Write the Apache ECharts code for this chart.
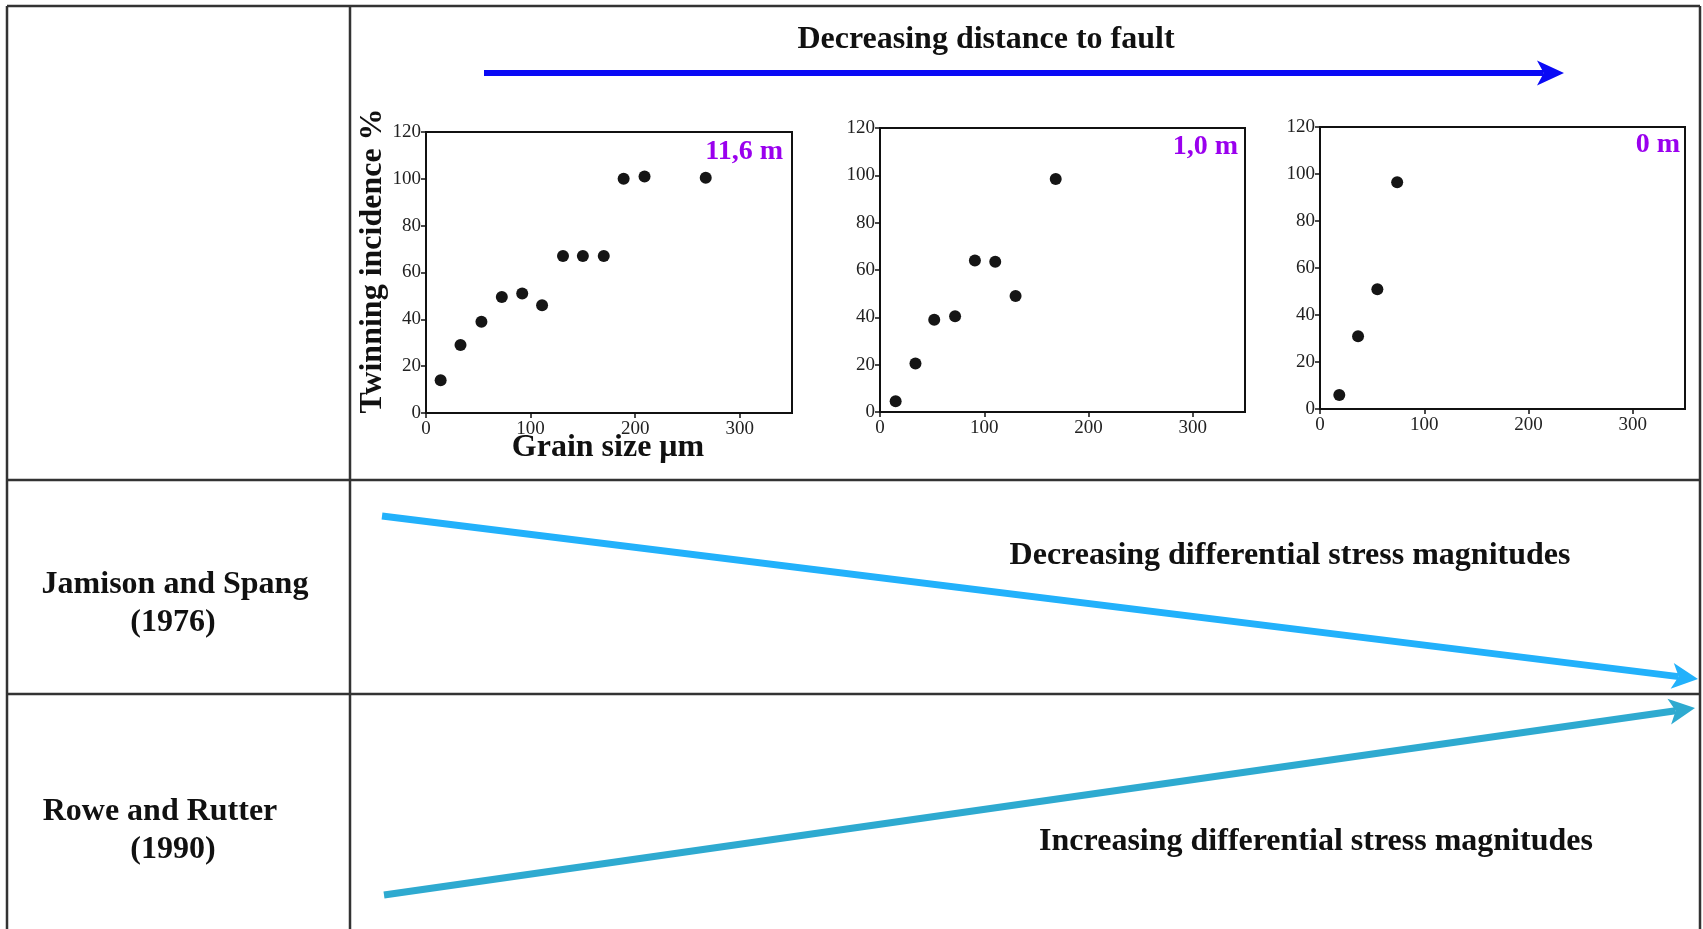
<!DOCTYPE html>
<html>
<head>
<meta charset="utf-8">
<title>Twinning incidence vs grain size</title>
<script src="https://cdn.jsdelivr.net/npm/echarts@6/dist/echarts.min.js"></script>
<style>
    html, body { margin: 0; padding: 0; background: #fff; }
    #chart { width: 1703px; height: 929px; }
</style>
</head>
<body>
<div id="chart"></div>
<script>
// distance of each sample to the fault
var distances = ['11,6 m', '1,0 m', '0 m'];

// grain size (um) / twinning incidence (%)
var grain116 = [14, 33, 53, 72.5, 92, 111, 131, 150, 170, 189, 209, 267.5];
var twin116 = [14, 29, 39, 49.5, 51, 46, 67, 67, 67, 100, 101, 100.5];
var grain10 = [15, 34, 52, 72, 91, 110.5, 130, 168.5];
var twin10 = [4.5, 20.5, 39, 40.5, 64, 63.5, 49, 98.5];
var grain0 = [18.5, 36.5, 55, 74];
var twin0 = [6, 31, 51, 96.5];

// axis ticks
var xMin = 0, xMax = 350, xStep = 100;
var yMin = 0, yMax = 120, yStep = 20;

var serif = '"Liberation Serif", "Times New Roman", serif';

var chart = (function () {

    var pairs = function (xs, ys) {
        var res = [];
        for (var i = 0; i < xs.length; i++) {
            res.push([xs[i], ys[i]]);
        }
        return res;
    };

    // straight arrow with a swept-back head
    var arrow = function (x1, y1, x2, y2, color, width, headLen, headHalf) {
        var dx = x2 - x1, dy = y2 - y1;
        var len = Math.sqrt(dx * dx + dy * dy);
        var ux = dx / len, uy = dy / len;
        var nx = -uy, ny = ux;
        var bx = x2 - ux * headLen, by = y2 - uy * headLen;
        var kx = x2 - ux * headLen * 0.75, ky = y2 - uy * headLen * 0.75;
        return [
            {
                type: 'line',
                silent: true,
                shape: {x1: x1, y1: y1, x2: kx, y2: ky},
                style: {stroke: color, lineWidth: width}
            },
            {
                type: 'polygon',
                silent: true,
                shape: {
                    points: [
                        [x2, y2],
                        [bx + nx * headHalf, by + ny * headHalf],
                        [kx, ky],
                        [bx - nx * headHalf, by - ny * headHalf]
                    ]
                },
                style: {fill: color}
            }
        ];
    };

    var rule = function (x1, y1, x2, y2) {
        return {
            type: 'line',
            silent: true,
            shape: {x1: x1, y1: y1, x2: x2, y2: y2},
            style: {stroke: '#333', lineWidth: 2.5}
        };
    };

    var label = function (text, x, y, opts) {
        opts = opts || {};
        return {
            type: 'text',
            silent: true,
            x: x,
            y: y,
            rotation: opts.rotation || 0,
            style: {
                text: text,
                fill: opts.color || '#111',
                font: 'bold ' + (opts.size || 32) + 'px ' + serif,
                align: opts.align || 'center',
                verticalAlign: 'middle'
            }
        };
    };

    var grids = [
        {left: 426, top: 132, width: 366, height: 281},
        {left: 880, top: 128, width: 365, height: 284},
        {left: 1320, top: 127, width: 365, height: 282}
    ];

    var xAxes = [], yAxes = [];
    for (var g = 0; g < grids.length; g++) {
        grids[g].show = true;
        grids[g].borderColor = '#111';
        grids[g].borderWidth = 2;
        xAxes.push({
            type: 'value',
            gridIndex: g,
            min: xMin,
            max: xMax,
            interval: xStep,
            axisLine: {lineStyle: {color: '#111', width: 2}},
            axisTick: {length: 5, lineStyle: {color: '#111', width: 1.5}},
            axisLabel: {
                color: '#222',
                fontSize: 19,
                fontFamily: serif,
                margin: 7,
                showMaxLabel: false
            },
            splitLine: {show: false}
        });
        yAxes.push({
            type: 'value',
            gridIndex: g,
            min: yMin,
            max: yMax,
            interval: yStep,
            axisLine: {lineStyle: {color: '#111', width: 2}},
            axisTick: {length: 5, lineStyle: {color: '#111', width: 1.5}},
            axisLabel: {
                color: '#222',
                fontSize: 19,
                fontFamily: serif,
                margin: 5
            },
            splitLine: {show: false}
        });
    }

    var panels = [pairs(grain116, twin116), pairs(grain10, twin10), pairs(grain0, twin0)];
    var series = panels.map(function (d, i) {
        return {
            name: distances[i],
            type: 'scatter',
            xAxisIndex: i,
            yAxisIndex: i,
            data: d,
            symbolSize: 12,
            itemStyle: {color: '#151515', opacity: 1}
        };
    });

    var graphic = [
        // table frame
        rule(7, 6, 1700, 6),
        rule(7, 6, 7, 929),
        rule(1700, 6, 1700, 929),
        rule(350, 6, 350, 929),
        rule(7, 480, 1700, 480),
        rule(7, 694, 1700, 694),

        label('Decreasing distance to fault', 986, 40),
        label('Twinning incidence %', 373, 261, {rotation: Math.PI / 2}),
        label('Grain size \u03bcm', 608, 448),
        label(distances[0], 783, 152, {align: 'right', color: '#9a00ee', size: 28}),
        label(distances[1], 1238, 147, {align: 'right', color: '#9a00ee', size: 28}),
        label(distances[2], 1680, 145, {align: 'right', color: '#9a00ee', size: 28}),

        label('Jamison and Spang', 175, 585),
        label('(1976)', 173, 623),
        label('Rowe and Rutter', 160, 812),
        label('(1990)', 173, 850),

        label('Decreasing differential stress magnitudes', 1290, 556),
        label('Increasing differential stress magnitudes', 1316, 842)
    ];
    graphic = graphic
        .concat(arrow(484, 73, 1564, 73, '#0a0af5', 6, 27, 12.5))
        .concat(arrow(382, 516, 1698, 679, '#22b1fb', 7, 26, 13))
        .concat(arrow(384, 895, 1695, 708, '#2eaad0', 7, 26, 13));

    return {
        draw: function () {
            var myChart = echarts.init(document.getElementById('chart'));
            myChart.setOption({
                backgroundColor: '#fff',
                animation: false,
                grid: grids,
                xAxis: xAxes,
                yAxis: yAxes,
                series: series,
                graphic: graphic
            });
        }
    };
})();

chart.draw();
</script>
</body>
</html>
